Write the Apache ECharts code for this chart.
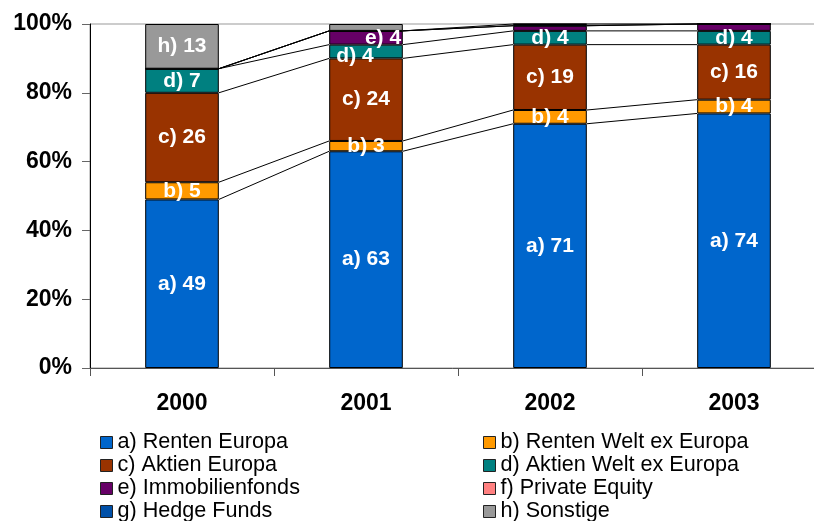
<!DOCTYPE html>
<html>
<head>
<meta charset="utf-8">
<script src="https://cdn.jsdelivr.net/npm/echarts@6/dist/echarts.min.js"></script>
<style>
  html, body { margin: 0; padding: 0; background: #fff; }
  #chart { width: 814px; height: 521px; }
</style>
</head>
<body>
<div id="chart"></div>
<script>
// Portfolio structure by asset class, shares in percent
const years = ['2000', '2001', '2002', '2003'];
const seriesNames = [
  'a) Renten Europa', 'b) Renten Welt ex Europa',
  'c) Aktien Europa', 'd) Aktien Welt ex Europa',
  'e) Immobilienfonds', 'f) Private Equity',
  'g) Hedge Funds', 'h) Sonstige'
];
const rentenEuropa      = [49, 63, 71, 74];
const rentenWelt        = [5, 3, 4, 4];
const aktienEuropa      = [26, 24, 19, 16];
const aktienWelt        = [7, 4, 4, 4];
const immobilienfonds   = [0, 4, 1.5, 2];
const privateEquity     = [0, 0, 0, 0];
const hedgeFunds        = [0, 0, 0.5, 0];
const sonstige          = [13, 2, 0, 0];
const yTicks = [0, 20, 40, 60, 80, 100];

const values = [rentenEuropa, rentenWelt, aktienEuropa, aktienWelt,
                immobilienfonds, privateEquity, hedgeFunds, sonstige];
const colors = ['#0066CC', '#FF9900', '#993300', '#008080',
                '#660066', '#FF8080', '#0050A8', '#999999'];

const FONT = '"Liberation Sans", Arial, Helvetica, sans-serif';
const BAR_SHARE = 0.4;

// nudges for labels that would otherwise collide in thin segments
const labelNudge = { '3-1': [-11, 5], '4-1': [17, 0] };

const barSeries = values.map((vals, s) => ({
  name: seriesNames[s],
  type: 'bar',
  stack: 'total',
  barWidth: (BAR_SHARE * 100) + '%',
  z: 3,
  itemStyle: { color: colors[s], borderColor: '#000', borderWidth: 1 },
  data: vals.map((v, i) => {
    const item = { value: v };
    item.label = {
      show: v >= 3,
      position: 'inside',
      formatter: seriesNames[s].slice(0, 2) + ' ' + v,
      color: '#fff',
      fontFamily: FONT,
      fontWeight: 'bold',
      fontSize: 21
    };
    const nudge = labelNudge[s + '-' + i];
    if (nudge) item.label.offset = nudge;
    return item;
  })
}));

// connector lines between the tops of stacked segments of adjacent bars
const cumulative = years.map((_, i) => {
  let acc = 0;
  return values.map(vals => (acc += vals[i]));
});
const connectorData = [];
for (let i = 0; i < years.length - 1; i++) {
  for (let s = 0; s < values.length - 1; s++) {
    connectorData.push([i, cumulative[i][s], cumulative[i + 1][s]]);
  }
}

const connectorSeries = {
  type: 'custom',
  z: 2,
  silent: true,
  encode: { x: 0, y: 1 },
  data: connectorData,
  renderItem: function (params, api) {
    const i = api.value(0);
    const p1 = api.coord([i, api.value(1)]);
    const p2 = api.coord([i + 1, api.value(2)]);
    const hw = api.size([1, 0])[0] * BAR_SHARE / 2;
    return {
      type: 'line',
      shape: { x1: p1[0] + hw, y1: p1[1], x2: p2[0] - hw, y2: p2[1] },
      style: { stroke: '#000', lineWidth: 1 }
    };
  }
};

const legendBase = {
  orient: 'vertical',
  itemWidth: 12,
  itemHeight: 12,
  itemGap: 0,
  icon: 'rect',
  height: 110,
  itemStyle: { borderColor: '#222', borderWidth: 1 },
  textStyle: { fontFamily: FONT, fontSize: 21.6, color: '#000', lineHeight: 23 },
  selectedMode: false,
  padding: 0
};

const chart = echarts.init(document.getElementById('chart'));
chart.setOption({
  animation: false,
  backgroundColor: '#fff',
  grid: {
    left: 90, top: 24, bottom: 153, width: 736,
    outerBoundsMode: 'none',
    show: true, borderColor: '#999', borderWidth: 1
  },
  legend: [
    Object.assign({}, legendBase, {
      left: 100, top: 431,
      data: [seriesNames[0], seriesNames[2], seriesNames[4], seriesNames[6]]
    }),
    Object.assign({}, legendBase, {
      left: 483, top: 431,
      data: [seriesNames[1], seriesNames[3], seriesNames[5], seriesNames[7]]
    })
  ],
  xAxis: {
    type: 'category',
    data: years,
    axisLine: { lineStyle: { color: '#555', width: 1 } },
    axisTick: { show: true, length: 8, lineStyle: { color: '#555' } },
    axisLabel: {
      fontFamily: FONT, fontWeight: 'bold', fontSize: 23, color: '#000', margin: 24
    }
  },
  yAxis: {
    type: 'value',
    min: yTicks[0],
    max: yTicks[yTicks.length - 1],
    interval: yTicks[1] - yTicks[0],
    axisLine: { show: true, lineStyle: { color: '#000', width: 1 } },
    axisTick: { show: true, length: 8, lineStyle: { color: '#666' } },
    splitLine: { show: false },
    axisLabel: {
      formatter: '{value}%',
      fontFamily: FONT, fontWeight: 'bold', fontSize: 23, color: '#000', margin: 18
    }
  },
  series: [connectorSeries].concat(barSeries)
});
</script>
</body>
</html>
